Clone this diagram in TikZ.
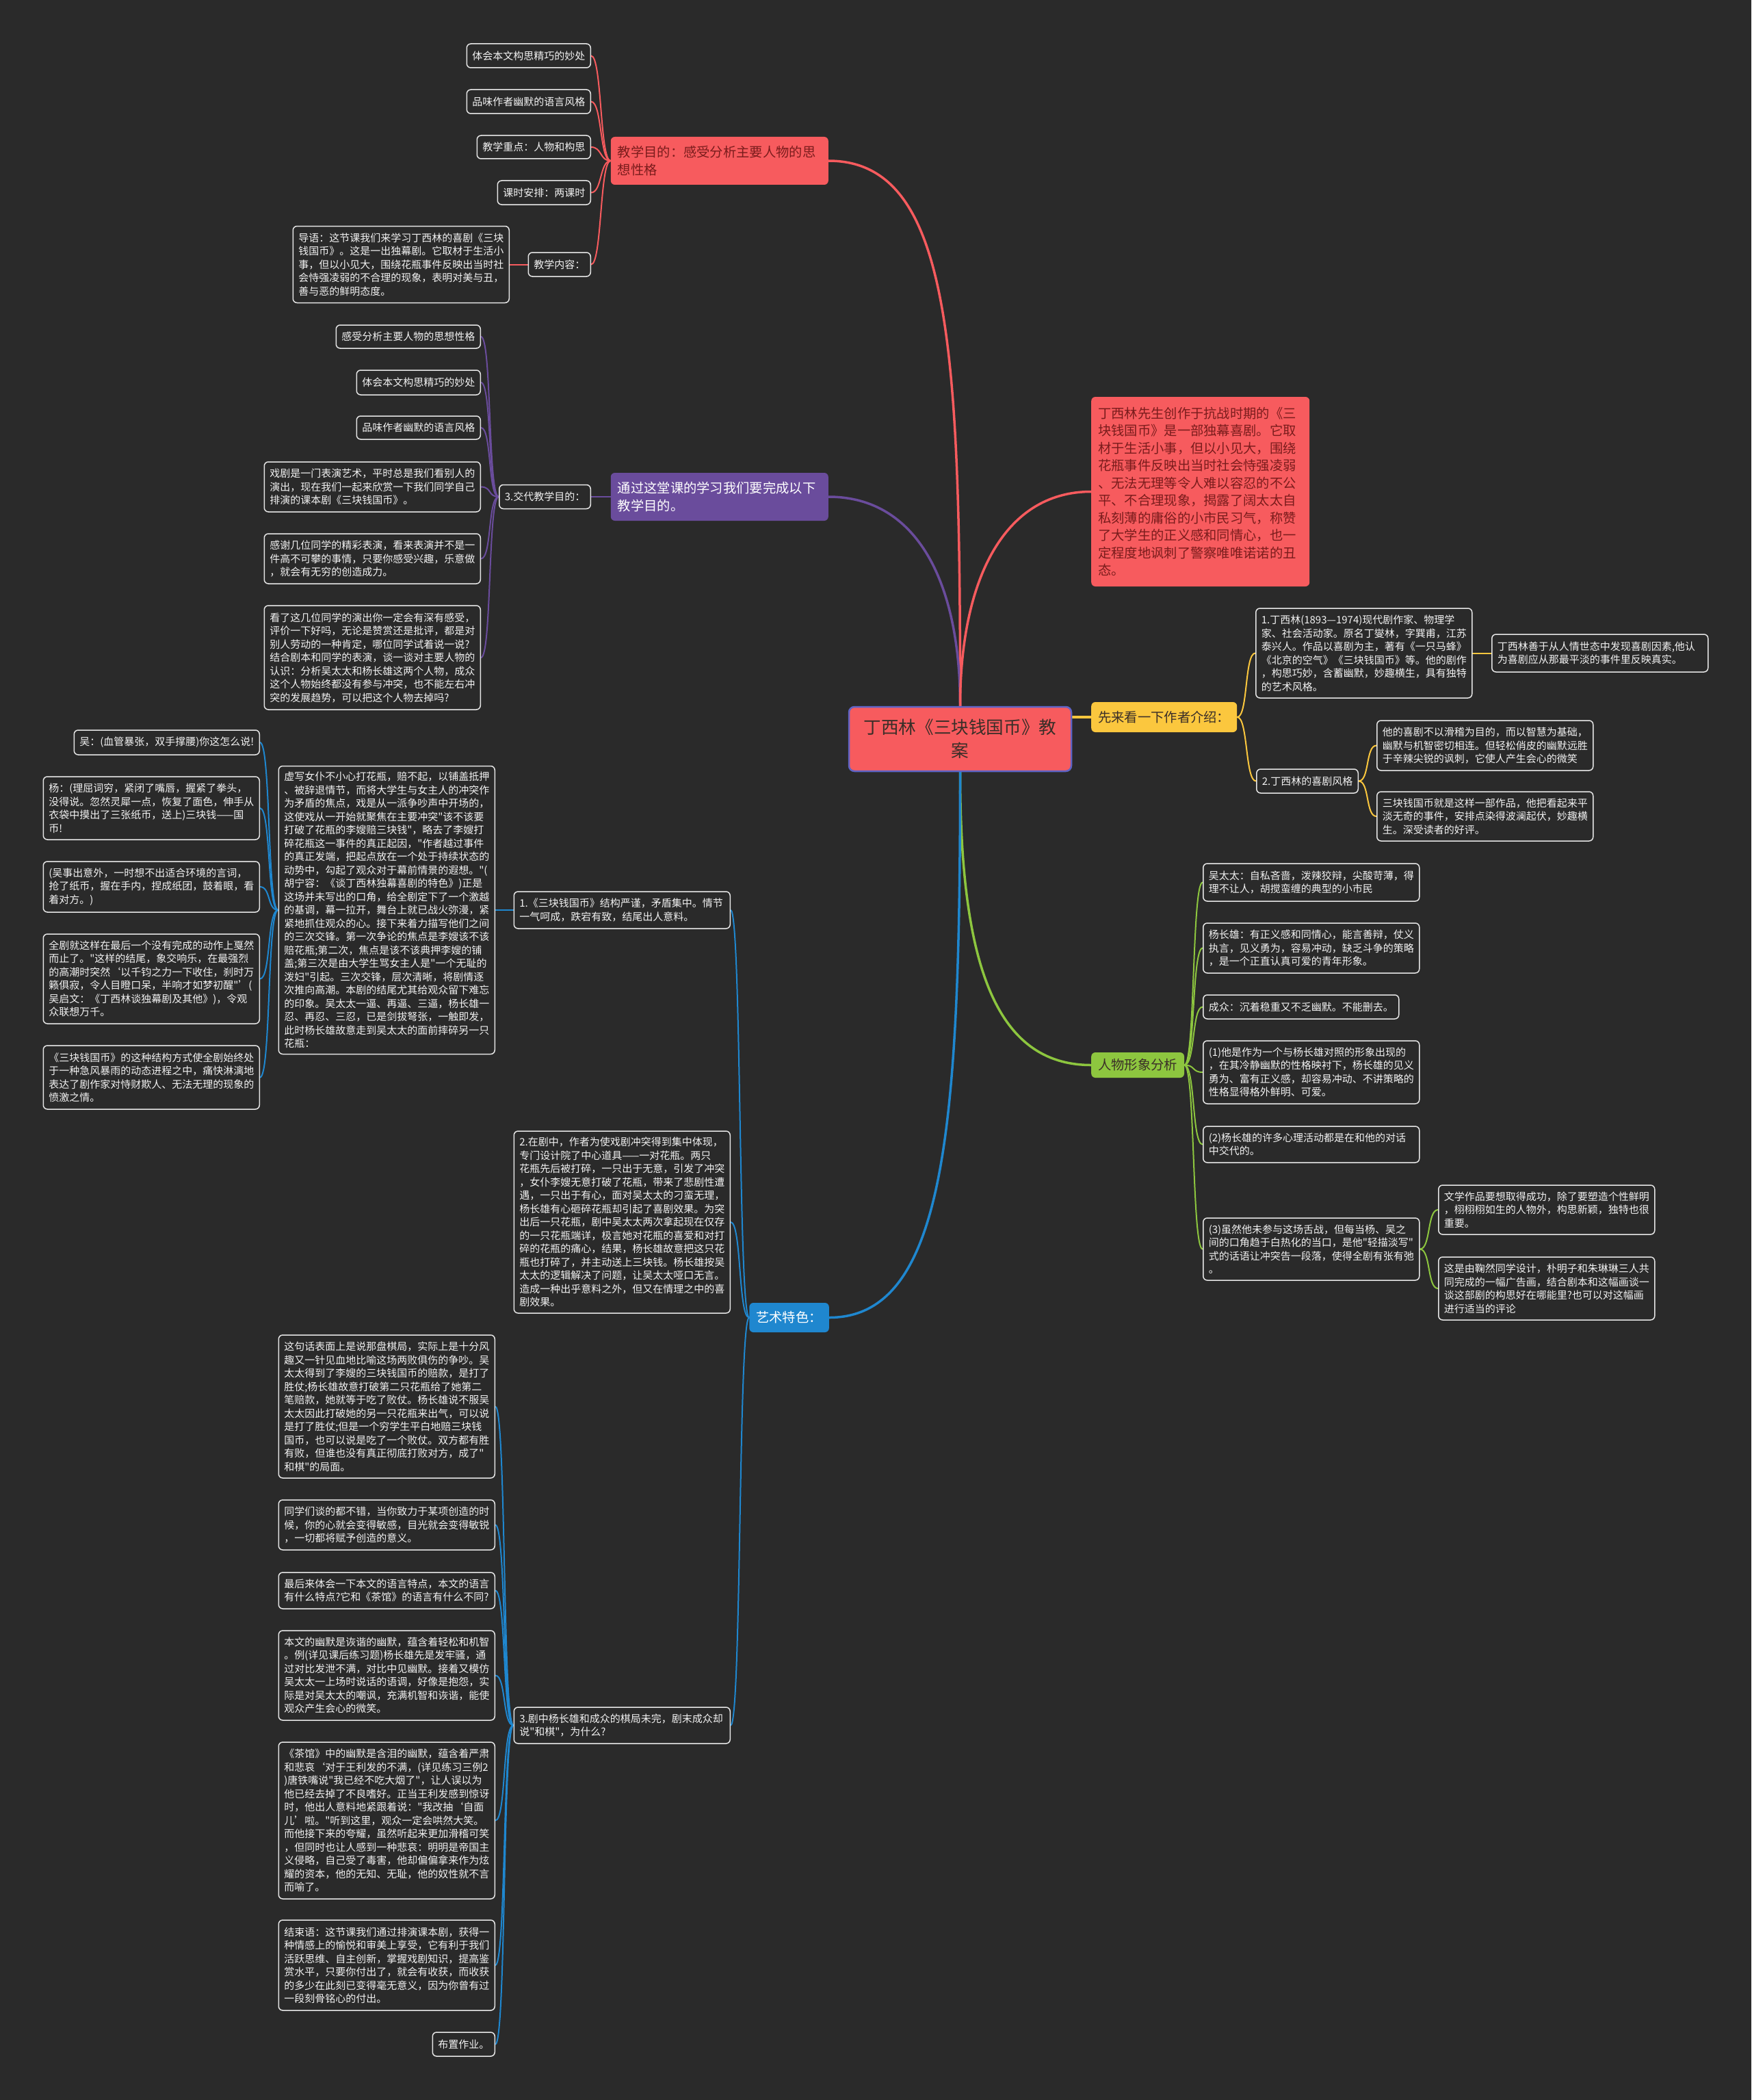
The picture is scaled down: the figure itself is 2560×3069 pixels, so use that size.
\documentclass[tikz,border=0pt]{standalone}
\usepackage{fontspec}
\setmainfont{Noto Sans CJK SC}[Ligatures=TeXOff]
\usetikzlibrary{calc}
\definecolor{bgcol}{HTML}{2A2A2A}
\definecolor{leafline}{HTML}{E6E6E6}
\definecolor{leaftext}{HTML}{F2F2F2}
\definecolor{cred}{HTML}{F75B5E}
\definecolor{cpurple}{HTML}{6A4C9C}
\definecolor{cyellow}{HTML}{FBC73E}
\definecolor{cgreen}{HTML}{8DC63F}
\definecolor{cblue}{HTML}{1F87CF}
\definecolor{credtext}{HTML}{7A1C1C}
\definecolor{cdarktext}{HTML}{3A2E28}
\definecolor{cborder}{HTML}{5F63C4}
\pgfdeclarelayer{back}
\pgfdeclarelayer{lines}
\pgfsetlayers{back,lines,main}
\tikzset{
  leaf/.style={draw=leafline, fill=bgcol, line width=1.5pt, rounded corners=6pt, text=leaftext,
    font=\fontsize{15}{19.5}\selectfont, align=left, inner xsep=8pt, inner ysep=3pt},
  wide/.style={text width=300pt},
  topic/.style={rounded corners=6pt, font=\fontsize{19.3}{25.5}\selectfont, align=left,
    inner xsep=10pt, inner ysep=3pt},
  cl/.style={to path={.. controls ($(\tikztostart)+(-16,0)$) and ($(\tikztotarget)+(16,0)$) .. (\tikztotarget)}},
  cr/.style={to path={.. controls ($(\tikztostart)+(16,0)$) and ($(\tikztotarget)+(-16,0)$) .. (\tikztotarget)}},
  conn/.style={line width=2pt, line cap=round},
  mainconn/.style={line width=3.5pt, line cap=round},
}
\begin{document}
\begin{tikzpicture}[x=1pt,y=-1pt]
\begin{pgfonlayer}{back}
\fill[bgcol] (0,0) rectangle (2560,3069);
\end{pgfonlayer}
\useasboundingbox (0,0) rectangle (2560,3069);

% center
\node[rounded corners=8pt, fill=cred, draw=cborder, line width=2.5pt, text=cdarktext,
  font=\fontsize{25.6}{34}\selectfont, align=center, text width=305pt, inner xsep=10pt,
  minimum height=94pt] (c) at (1403.5,1080) {丁西林《三块钱国币》教\\案};

% red branch
\node[topic, fill=cred, text=credtext, text width=298pt, minimum height=70pt, anchor=east] (goal) at (1211,235) {教学目的：感受分析主要人物的思\\想性格};
\node[leaf, minimum height=35pt, anchor=east] (g1) at (864,81.5) {体会本文构思精巧的妙处};
\node[leaf, minimum height=35pt, anchor=east] (g2) at (864,148.5) {品味作者幽默的语言风格};
\node[leaf, minimum height=34pt, anchor=east] (g3) at (864,215) {教学重点：人物和构思};
\node[leaf, minimum height=35pt, anchor=east] (g4) at (864,281.5) {课时安排：两课时};
\node[leaf, minimum height=35pt, anchor=east] (g5) at (864,386.5) {教学内容：};
\node[leaf, wide, minimum height=112pt, anchor=east] (g6) at (745,386.5) {导语：这节课我们来学习丁西林的喜剧《三块\\钱国币》。这是一出独幕剧。它取材于生活小\\事，但以小见大，围绕花瓶事件反映出当时社\\会恃强凌弱的不合理的现象，表明对美与丑，\\善与恶的鲜明态度。};

% purple branch
\node[topic, fill=cpurple, text=white, text width=298pt, minimum height=70pt, anchor=east] (pur) at (1211,726) {通过这堂课的学习我们要完成以下\\教学目的。};
\node[leaf, minimum height=35pt, anchor=east] (p0) at (864,726) {3.交代教学目的：};
\node[leaf, minimum height=34pt, anchor=east] (p1) at (703,492) {感受分析主要人物的思想性格};
\node[leaf, minimum height=36pt, anchor=east] (p2) at (703,559) {体会本文构思精巧的妙处};
\node[leaf, minimum height=34pt, anchor=east] (p3) at (703,625) {品味作者幽默的语言风格};
\node[leaf, wide, minimum height=73pt, anchor=east] (p4) at (703,711.5) {戏剧是一门表演艺术，平时总是我们看别人的\\演出，现在我们一起来欣赏一下我们同学自己\\排演的课本剧《三块钱国币》。};
\node[leaf, wide, minimum height=73pt, anchor=east] (p5) at (703,816.5) {感谢几位同学的精彩表演，看来表演并不是一\\件高不可攀的事情，只要你感受兴趣，乐意做\\，就会有无穷的创造成力。};
\node[leaf, wide, minimum height=152pt, anchor=east] (p6) at (703,961) {看了这几位同学的演出你一定会有深有感受，\\评价一下好吗，无论是赞赏还是批评，都是对\\别人劳动的一种肯定，哪位同学试着说一说?\\结合剧本和同学的表演，谈一谈对主要人物的\\认识：分析吴太太和杨长雄这两个人物，成众\\这个人物始终都没有参与冲突，也不能左右冲\\突的发展趋势，可以把这个人物去掉吗?};

% red description
\node[topic, fill=cred, text=credtext, text width=299pt, minimum height=277pt, anchor=west] (rdesc) at (1595,718.5) {丁西林先生创作于抗战时期的《三\\块钱国币》是一部独幕喜剧。它取\\材于生活小事，但以小见大，围绕\\花瓶事件反映出当时社会恃强凌弱\\、无法无理等令人难以容忍的不公\\平、不合理现象，揭露了阔太太自\\私刻薄的庸俗的小市民习气，称赞\\了大学生的正义感和同情心，也一\\定程度地讽刺了警察唯唯诺诺的丑\\态。};

% yellow branch
\node[topic, fill=cyellow, text=cdarktext, minimum height=44pt, anchor=west] (yel) at (1595,1048) {先来看一下作者介绍：};
\node[leaf, wide, minimum height=131pt, anchor=west] (y1) at (1835,954.5) {1.丁西林(1893—1974)现代剧作家、物理学\\家、社会活动家。原名丁燮林，字巽甫，江苏\\泰兴人。作品以喜剧为主，著有《一只马蜂》\\《北京的空气》《三块钱国币》等。他的剧作\\，构思巧妙，含蓄幽默，妙趣横生，具有独特\\的艺术风格。};
\node[leaf, wide, minimum height=55pt, anchor=west] (y1a) at (2180,954.5) {丁西林善于从人情世态中发现喜剧因素,他认\\为喜剧应从那最平淡的事件里反映真实。};
\node[leaf, minimum height=35pt, anchor=west] (y2) at (1836,1141.5) {2.丁西林的喜剧风格};
\node[leaf, wide, minimum height=73pt, anchor=west] (y2a) at (2012,1089.5) {他的喜剧不以滑稽为目的，而以智慧为基础，\\幽默与机智密切相连。但轻松俏皮的幽默远胜\\于辛辣尖锐的讽刺，它使人产生会心的微笑};
\node[leaf, wide, minimum height=72pt, anchor=west] (y2b) at (2012,1193) {三块钱国币就是这样一部作品，他把看起来平\\淡无奇的事件，安排点染得波澜起伏，妙趣横\\生。深受读者的好评。};

% green branch
\node[topic, fill=cgreen, text=cdarktext, minimum height=37pt, anchor=west] (grn) at (1595,1556.5) {人物形象分析};
\node[leaf, wide, minimum height=55pt, anchor=west] (gr1) at (1758,1289.5) {吴太太：自私吝啬，泼辣狡辩，尖酸苛薄，得\\理不让人，胡搅蛮缠的典型的小市民};
\node[leaf, wide, minimum height=73pt, anchor=west] (gr2) at (1758,1385.5) {杨长雄：有正义感和同情心，能言善辩，仗义\\执言，见义勇为，容易冲动，缺乏斗争的策略\\，是一个正直认真可爱的青年形象。};
\node[leaf, minimum height=35pt, anchor=west] (gr3) at (1758,1471.5) {成众：沉着稳重又不乏幽默。不能删去。};
\node[leaf, wide, minimum height=92pt, anchor=west] (gr4) at (1758,1567) {(1)他是作为一个与杨长雄对照的形象出现的\\，在其冷静幽默的性格映衬下，杨长雄的见义\\勇为、富有正义感，却容易冲动、不讲策略的\\性格显得格外鲜明、可爱。};
\node[leaf, wide, minimum height=53pt, anchor=west] (gr5) at (1758,1672.5) {(2)杨长雄的许多心理活动都是在和他的对话\\中交代的。};
\node[leaf, wide, minimum height=91pt, anchor=west] (gr6) at (1758,1825.5) {(3)虽然他未参与这场舌战，但每当杨、吴之\\间的口角趋于白热化的当口，是他"轻描淡写"\\式的话语让冲突告一段落，使得全剧有张有弛\\。};
\node[leaf, wide, minimum height=72pt, anchor=west] (gr6a) at (2102,1768) {文学作品要想取得成功，除了要塑造个性鲜明\\，栩栩栩如生的人物外，构思新颖，独特也很\\重要。};
\node[leaf, wide, minimum height=92pt, anchor=west] (gr6b) at (2102,1883) {这是由鞠然同学设计，朴明子和朱琳琳三人共\\同完成的一幅广告画，结合剧本和这幅画谈一\\谈这部剧的构思好在哪能里?也可以对这幅画\\进行适当的评论};

% blue branch
\node[topic, fill=cblue, text=white, minimum height=43pt, anchor=east] (blu) at (1212,1925.5) {艺术特色：};
\node[leaf, wide, minimum height=54pt, anchor=east] (b1) at (1068,1330) {1.《三块钱国币》结构严谨，矛盾集中。情节\\一气呵成，跌宕有致，结尾出人意料。};
\node[leaf, wide, minimum height=421pt, anchor=east] (b1a) at (724,1330) {虚写女仆不小心打花瓶，赔不起，以铺盖抵押\\、被辞退情节，而将大学生与女主人的冲突作\\为矛盾的焦点，戏是从一派争吵声中开场的，\\这使戏从一开始就聚焦在主要冲突"该不该要\\打破了花瓶的李嫂赔三块钱"，略去了李嫂打\\碎花瓶这一事件的真正起因，"作者越过事件\\的真正发端，把起点放在一个处于持续状态的\\动势中，勾起了观众对于幕前情景的遐想。"(\\胡宁容：《谈丁西林独幕喜剧的特色》)正是\\这场并未写出的口角，给全剧定下了一个激越\\的基调，幕一拉开，舞台上就已战火弥漫，紧\\紧地抓住观众的心。接下来着力描写他们之间\\的三次交锋。第一次争论的焦点是李嫂该不该\\赔花瓶;第二次，焦点是该不该典押李嫂的铺\\盖;第三次是由大学生骂女主人是"一个无耻的\\泼妇"引起。三次交锋，层次清晰，将剧情逐\\次推向高潮。本剧的结尾尤其给观众留下难忘\\的印象。吴太太一逼、再逼、三逼，杨长雄一\\忍、再忍、三忍，已是剑拔弩张，一触即发，\\此时杨长雄故意走到吴太太的面前摔碎另一只\\花瓶：};
\node[leaf, minimum height=36pt, anchor=east] (b1a1) at (380,1085) {吴：(血管暴张，双手撑腰)你这怎么说!};
\node[leaf, wide, minimum height=92pt, anchor=east] (b1a2) at (380,1181) {杨：(理屈词穷，紧闭了嘴唇，握紧了拳头，\\没得说。忽然灵犀一点，恢复了面色，伸手从\\衣袋中摸出了三张纸币，送上)三块钱——国\\币!};
\node[leaf, wide, minimum height=74pt, anchor=east] (b1a3) at (380,1296) {(吴事出意外，一时想不出适合环境的言词，\\抢了纸币，握在手内，捏成纸团，鼓着眼，看\\着对方。)};
\node[leaf, wide, minimum height=131pt, anchor=east] (b1a4) at (380,1430.5) {全剧就这样在最后一个没有完成的动作上戛然\\而止了。"这样的结尾，象交响乐，在最强烈\\的高潮时突然‘以千钧之力一下收住，刹时万\\籁俱寂，令人目瞪口呆，半响才如梦初醒"’(\\吴启文：《丁西林谈独幕剧及其他》)，令观\\众联想万千。};
\node[leaf, wide, minimum height=93pt, anchor=east] (b1a5) at (380,1574.5) {《三块钱国币》的这种结构方式使全剧始终处\\于一种急风暴雨的动态进程之中，痛快淋漓地\\表达了剧作家对恃财欺人、无法无理的现象的\\愤激之情。};
\node[leaf, wide, minimum height=266pt, anchor=east] (b2) at (1068,1786) {2.在剧中，作者为使戏剧冲突得到集中体现，\\专门设计院了中心道具——一对花瓶。两只\\花瓶先后被打碎，一只出于无意，引发了冲突\\，女仆李嫂无意打破了花瓶，带来了悲剧性遭\\遇，一只出于有心，面对吴太太的刁蛮无理，\\杨长雄有心砸碎花瓶却引起了喜剧效果。为突\\出后一只花瓶，剧中吴太太两次拿起现在仅存\\的一只花瓶端详，极言她对花瓶的喜爱和对打\\碎的花瓶的痛心，结果，杨长雄故意把这只花\\瓶也打碎了，并主动送上三块钱。杨长雄按吴\\太太的逻辑解决了问题，让吴太太哑口无言。\\造成一种出乎意料之外，但又在情理之中的喜\\剧效果。};
\node[leaf, wide, minimum height=53pt, anchor=east] (b3) at (1068,2521.5) {3.剧中杨长雄和成众的棋局未完，剧末成众却\\说"和棋"，为什么?};
\node[leaf, wide, minimum height=209pt, anchor=east] (b3a) at (724,2055.5) {这句话表面上是说那盘棋局，实际上是十分风\\趣又一针见血地比喻这场两败俱伤的争吵。吴\\太太得到了李嫂的三块钱国币的赔款，是打了\\胜仗;杨长雄故意打破第二只花瓶给了她第二\\笔赔款，她就等于吃了败仗。杨长雄说不服吴\\太太因此打破她的另一只花瓶来出气，可以说\\是打了胜仗;但是一个穷学生平白地赔三块钱\\国币，也可以说是吃了一个败仗。双方都有胜\\有败，但谁也没有真正彻底打败对方，成了"\\和棋"的局面。};
\node[leaf, wide, minimum height=73pt, anchor=east] (b3b) at (724,2228.5) {同学们谈的都不错，当你致力于某项创造的时\\候，你的心就会变得敏感，目光就会变得敏锐\\，一切都将赋予创造的意义。};
\node[leaf, wide, minimum height=53pt, anchor=east] (b3c) at (724,2324.5) {最后来体会一下本文的语言特点，本文的语言\\有什么特点?它和《茶馆》的语言有什么不同?};
\node[leaf, wide, minimum height=131pt, anchor=east] (b3d) at (724,2448.5) {本文的幽默是诙谐的幽默，蕴含着轻松和机智\\。例(详见课后练习题)杨长雄先是发牢骚，通\\过对比发泄不满，对比中见幽默。接着又模仿\\吴太太一上场时说话的语调，好像是抱怨，实\\际是对吴太太的嘲讽，充满机智和诙谐，能使\\观众产生会心的微笑。};
\node[leaf, wide, minimum height=229pt, anchor=east] (b3e) at (724,2660.5) {《茶馆》中的幽默是含泪的幽默，蕴含着严肃\\和悲哀‘对于王利发的不满，(详见练习三例2\\)唐铁嘴说"我已经不吃大烟了"，让人误以为\\他已经去掉了不良嗜好。正当王利发感到惊讶\\时，他出人意料地紧跟着说："我改抽‘自面\\儿’啦。"听到这里，观众一定会哄然大笑。\\而他接下来的夸耀，虽然听起来更加滑稽可笑\\，但同时也让人感到一种悲哀：明明是帝国主\\义侵略，自己受了毒害，他却偏偏拿来作为炫\\耀的资本，他的无知、无耻，他的奴性就不言\\而喻了。};
\node[leaf, wide, minimum height=132pt, anchor=east] (b3f) at (724,2872) {结束语：这节课我们通过排演课本剧，获得一\\种情感上的愉悦和审美上享受，它有利于我们\\活跃思维、自主创新，掌握戏剧知识，提高鉴\\赏水平，只要你付出了，就会有收获，而收获\\的多少在此刻已变得毫无意义，因为你曾有过\\一段刻骨铭心的付出。};
\node[leaf, minimum height=35pt, anchor=east] (b3g) at (724,2987.5) {布置作业。};

\begin{pgfonlayer}{lines}
% main branches
\draw[cred, mainconn] (c.north) .. controls ($(c.north)+(0,-520)$) and ($(goal.east)+(180,0)$) .. (goal.east);
\draw[cpurple, mainconn] (c.north) .. controls ($(c.north)+(0,-180)$) and ($(pur.east)+(130,0)$) .. (pur.east);
\draw[cred, mainconn] (c.north) .. controls ($(c.north)+(0,-180)$) and ($(rdesc.west)+(-130,0)$) .. (rdesc.west);
\draw[cyellow, mainconn] (c.east |- yel.west) -- (yel.west);
\draw[cgreen, mainconn] (c.south) .. controls ($(c.south)+(0,280)$) and ($(grn.west)+(-140,0)$) .. (grn.west);
\draw[cblue, mainconn] (c.south) .. controls ($(c.south)+(0,520)$) and ($(blu.east)+(170,0)$) .. (blu.east);
% red
\foreach \n in {g1,g2,g3,g4,g5} \draw[cred, conn] (goal.west) to[cl] (\n.east);
\draw[cred, conn] (g5.west) -- (g6.east);
% purple
\draw[cpurple, conn] (pur.west) -- (p0.east);
\foreach \n in {p1,p2,p3,p4,p5,p6} \draw[cpurple, conn] (p0.west) to[cl] (\n.east);
% yellow
\foreach \n in {y1,y2} \draw[cyellow, conn] (yel.east) to[cr] (\n.west);
\draw[cyellow, conn] (y1.east) -- (y1a.west);
\foreach \n in {y2a,y2b} \draw[cyellow, conn] (y2.east) to[cr] (\n.west);
% green
\foreach \n in {gr1,gr2,gr3,gr4,gr5,gr6} \draw[cgreen, conn] (grn.east) to[cr] (\n.west);
\foreach \n in {gr6a,gr6b} \draw[cgreen, conn] (gr6.east) to[cr] (\n.west);
% blue
\foreach \n in {b1,b2,b3} \draw[cblue, conn] (blu.west) to[cl] (\n.east);
\draw[cblue, conn] (b1.west) -- (b1a.east);
\foreach \n in {b1a1,b1a2,b1a3,b1a4,b1a5} \draw[cblue, conn] (b1a.west) to[cl] (\n.east);
\foreach \n in {b3a,b3b,b3c,b3d,b3e,b3f,b3g} \draw[cblue, conn] (b3.west) to[cl] (\n.east);
\end{pgfonlayer}
\end{tikzpicture}
\end{document}
